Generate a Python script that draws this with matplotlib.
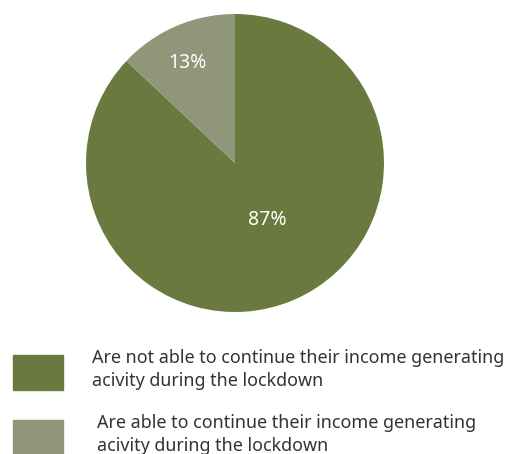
import numpy as np
import matplotlib.pyplot as plt
from matplotlib.patches import Rectangle

# ── Data ─────────────────────────────────────────────────────────────────────
categories = [
    "Are not able to continue their income generating\nacivity during the lockdown",
    "Are able to continue their income generating\nacivity during the lockdown",
]
shares = [87, 13]                       # percent
colors = ["#6a7a3e", "#8f9679"]

# label radius (fraction of pie radius) and angle nudge (deg) per slice
label_r = [0.44, 0.74]
label_da = [6, 2]

plt.rcParams["font.family"] = ["Noto Sans", "DejaVu Sans"]

W, H = 510, 454
fig = plt.figure(figsize=(W / 100, H / 100), dpi=100)

# --- pie, centred at (235, 163) px with radius ~149 px ---
cx, cy, r = 235, 163, 149
ax = fig.add_axes([(cx - r) / W, 1 - (cy + r) / H, 2 * r / W, 2 * r / H])
wedges, _, autotexts = ax.pie(
    shares, colors=colors, startangle=90, counterclock=False,
    autopct="%d%%", radius=1.0,
    wedgeprops=dict(linewidth=0),
    textprops=dict(color="white", fontsize=14),
)
for w, t, d, da in zip(wedges, autotexts, label_r, label_da):
    ang = np.deg2rad((w.theta1 + w.theta2) / 2 + da)
    t.set_position((d * np.cos(ang), d * np.sin(ang)))
ax.set_xlim(-1, 1)
ax.set_ylim(-1, 1)
ax.set_aspect("equal")
ax.axis("off")

# --- legend: squares + two-line labels ---
box_tops = [355, 420]
text_x = [92, 97]
for top, tx, col, lab in zip(box_tops, text_x, colors, categories):
    fig.patches.append(Rectangle((13 / W, 1 - (top + 35) / H), 50 / W, 35 / H,
                                 transform=fig.transFigure, color=col))
    fig.text(tx / W, 1 - (top - 6) / H, lab, ha="left", va="top",
             fontsize=12.9, color="#333333", linespacing=1.35)

fig.savefig("out.png", dpi=100)
